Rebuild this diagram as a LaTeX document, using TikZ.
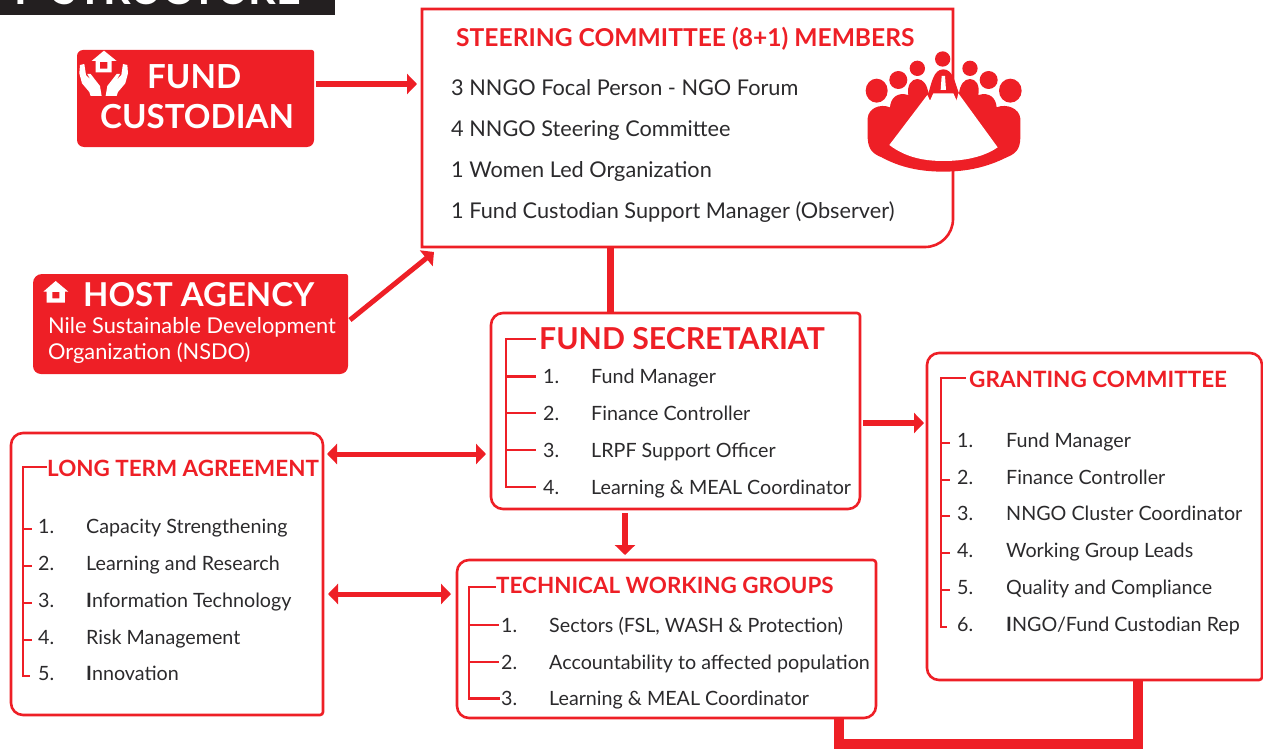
\documentclass[tikz,border=0pt]{standalone}
\usepackage{fontspec}
\setmainfont{Lato}
\usetikzlibrary{arrows.meta,calc}
\definecolor{brand}{HTML}{EE1F26}
\definecolor{ink}{HTML}{2B2A2C}
\definecolor{banner}{HTML}{231F20}
\tikzset{
  panel/.style={inner sep=0pt,outer sep=0pt},
  edgeline/.style={draw=brand,line width=2.6pt},
  body/.style={anchor=base west,inner sep=0pt,text=ink,font=\fontsize{19.7}{24}\selectfont},
  bodylarge/.style={anchor=base west,inner sep=0pt,text=ink,font=\fontsize{21.7}{25}\selectfont},
  head/.style={anchor=base west,inner sep=0pt,text=brand,font=\bfseries\fontsize{#1}{#1}\selectfont},
  tree/.style={draw=brand,line width=2.8pt},
  link/.style={draw=brand,line width=#1,-{Triangle[length=10pt,width=20pt]}},
  dlink/.style={draw=brand,line width=#1,{Triangle[length=10pt,width=20pt]}-{Triangle[length=10pt,width=20pt]}},
  trunk/.style={draw=brand,line width=#1},
  whitetext/.style={anchor=base west,inner sep=0pt,text=white,font=\fontsize{#1}{#1}\selectfont},
}
\newcommand\panelbox[9]{% name x1 y1 x2 y2 tl tr br bl
  \node[panel,minimum width={(#4-#2)*1pt},minimum height={(#5-#3)*1pt}] (#1) at ({(#2+#4)/2},{(#3+#5)/2}) {};
  \draw[edgeline] (#1.west) [rounded corners=#6pt] |- (#1.north) [rounded corners=#7pt] -| (#1.east) [rounded corners=#8pt] |- (#1.south) [rounded corners=#9pt] -| (#1.west);
}
\newcommand\solidbox[9]{%
  \node[panel,minimum width={(#4-#2)*1pt},minimum height={(#5-#3)*1pt}] (#1) at ({(#2+#4)/2},{(#3+#5)/2}) {};
  \fill[brand] (#1.west) [rounded corners=#6pt] |- (#1.north) [rounded corners=#7pt] -| (#1.east) [rounded corners=#8pt] |- (#1.south) [rounded corners=#9pt] -| (#1.west);
}
% id, number x, label x, baseline, number, label
\newcommand\rowitem[6]{%
  \node[body] (#1n) at (#2,#4) {#5.};
  \node[body] (#1l) at (#3,#4) {#6};
}
% spine coordinate, number node, gap to number, y offset
\newcommand\branch[4]{%
  \draw[tree] (#1 |- {$(#2.west)+(0,#4)$}) -- ($(#2.west)+(-#3,#4)$);
}
\begin{document}
\begin{tikzpicture}[x=1pt,y=-1pt]
\useasboundingbox (0,0) rectangle (1263,749);

% banner, cut off by the top edge
\node[panel,fill=banner,minimum width=335pt,minimum height=15pt,anchor=north west] (banner) at (0,0) {};
\begin{scope}
  \clip (0,0) rectangle (335,15);
  \node[anchor=base west,inner sep=0pt,text=white,font=\bfseries\fontsize{43}{43}\selectfont] (bannertext) at (14,5) {F\hspace{5pt} STRUCTURE};
\end{scope}

% filled boxes
\solidbox{fc}{77}{50}{314}{147}{6}{2}{7}{7}
\solidbox{ha}{33}{274}{348}{374}{9}{2}{8}{8}
\node[whitetext=33.1] (fct1) at (147,88.5) {\bfseries FUND};
\node[whitetext=33.1] (fct2) at (100,128.5) {\bfseries CUSTODIAN};
\node[whitetext=32.9] (hat) at (83,306) {\bfseries HOST AGENCY};
\node[whitetext=21.8] (has1) at (48,333) {Nile Sustainable Development};
\node[whitetext=21.8] (has2) at (48,359) {Organization (NSDO)};

% steering committee
\panelbox{sc}{422}{9}{953}{247}{0}{0}{28}{0}
\node[head=24.6] (sct) at (456,47) {STEERING COMMITTEE (8+1) MEMBERS};
\node[bodylarge] (sc1) at (451,96) {3 NNGO Focal Person - NGO Forum};
\node[bodylarge] (sc2) at (451,137) {4 NNGO Steering Committee};
\node[bodylarge] (sc3) at (451,177) {1 Women Led Organization};
\node[bodylarge] (sc4) at (451,218) {1 Fund Custodian Support Manager (Observer)};

% fund secretariat
\panelbox{fs}{491}{313}{860}{509}{12}{3}{12}{12}
\node[head=30.2] (fst) at (539,349) {FUND SECRETARIAT};
\rowitem{fsa}{543}{591}{383.5}{1}{Fund Manager}
\rowitem{fsb}{543}{591}{420}{2}{Finance Controller}
\rowitem{fsc}{543}{591}{457}{3}{LRPF Support Officer}
\rowitem{fsd}{543}{591}{494}{4}{Learning \& MEAL Coordinator}
\coordinate (fsspine) at (506,339);
\draw[tree] (fst.west |- fsspine) ++(-3,0) -- (fsspine) |- ($(fsdn.west)+(-7,0)$);
\branch{fsspine}{fsan}{7}{0}
\branch{fsspine}{fsbn}{7}{0}
\branch{fsspine}{fscn}{7}{0}

% granting committee
\panelbox{gc}{927}{353}{1262}{680}{12}{12}{3}{12}
\node[head=22.5] (gct) at (969,387) {GRANTING COMMITTEE};
\rowitem{gca}{957}{1006}{447}{1}{Fund Manager}
\rowitem{gcb}{957}{1006}{484}{2}{Finance Controller}
\rowitem{gcc}{957}{1006}{520}{3}{NNGO Cluster Coordinator}
\rowitem{gcd}{957}{1006}{557}{4}{Working Group Leads}
\rowitem{gce}{957}{1006}{594}{5}{Quality and Compliance}
\rowitem{gcf}{957}{1006}{631}{6}{{\bfseries I}NGO/Fund Custodian Rep}
\coordinate (gcspine) at (941,378);
\draw[tree] (gct.west |- gcspine) ++(-3,0) -- (gcspine) |- ($(gcfn.west)+(-10,3)$);
\branch{gcspine}{gcan}{7}{3}
\branch{gcspine}{gcbn}{7}{3}
\branch{gcspine}{gccn}{7}{3}
\branch{gcspine}{gcdn}{7}{3}
\branch{gcspine}{gcen}{7}{3}

% long term agreement
\panelbox{lt}{11}{433}{323}{715}{12}{12}{3}{12}
\node[head=22.4] (ltt) at (47,476) {LONG TERM AGREEMENT};
\rowitem{lta}{38}{86}{533}{1}{Capacity Strengthening}
\rowitem{ltb}{38}{86}{570}{2}{Learning and Research}
\rowitem{ltc}{38}{86}{607}{3}{{\bfseries I}nformation Technology}
\rowitem{ltd}{38}{86}{644}{4}{Risk Management}
\rowitem{lte}{38}{86}{680}{5}{{\bfseries I}nnovation}
\coordinate (ltspine) at (23,467);
\draw[tree] (ltt.west |- ltspine) -- (ltspine) |- ($(lten.west)+(-8,3)$);
\branch{ltspine}{ltan}{6}{3}
\branch{ltspine}{ltbn}{6}{3}
\branch{ltspine}{ltcn}{6}{3}
\branch{ltspine}{ltdn}{6}{3}

% technical working groups
\panelbox{tw}{457}{560}{876}{718}{12}{3}{12}{12}
\node[head=22.4] (twt) at (496,593) {TECHNICAL WORKING GROUPS};
\rowitem{twa}{501}{549}{632}{1}{Sectors (FSL, WASH \& Protection)}
\rowitem{twb}{501}{549}{669}{2}{Accountability to affected population}
\rowitem{twc}{501}{549}{705.5}{3}{Learning \& MEAL Coordinator}
\coordinate (twspine) at (469,587);
\draw[tree] (twt.west |- twspine) -- (twspine) |- ($(twcn.west)+(-1,0)$);
\branch{twspine}{twan}{2}{0}
\branch{twspine}{twbn}{2}{0}

% connectors
\draw[link=6pt] ($(fc.north east)+(2,34)$) -- ($(sc.north west)+(-5,75)$);
\draw[link=5pt] ($(ha.north east)+(2,46)$) -- ($(sc.south west)+(12,5)$);
\draw[trunk=7pt] ($(sc.south west)+(188.5,0)$) -- ($(fs.north west)+(119.5,0)$);
\draw[link=6pt] ($(fs.north east)+(3,110)$) -- ($(gc.north west)+(-3,70)$);
\draw[link=6pt] ($(fs.south west)+(134,4)$) -- ($(tw.north west)+(168,-5)$);
\draw[dlink=5pt] ($(lt.north east)+(4,21)$) -- ($(fs.north west)+(-5,141)$);
\draw[dlink=5pt] ($(lt.north east)+(5,161)$) -- ($(tw.north west)+(-6,34)$);
\draw[trunk=10pt,line join=miter] ($(tw.south east)+(-37.5,0)$) |- (1138,744) -- ($(gc.south west)+(211,0)$);

% hands and house icon (traced at 3x)
\begin{scope}[x=0.3333pt,y=-0.3333pt]
  \fill[white,even odd rule] (275,183) -- (312,152) -- (350,183) -- (335,183) -- (335,217) -- (287,217) -- (287,183) -- cycle (300,186) rectangle (322,206);
  \foreach \m/\o in {1/0,-1/622}{
    \fill[white] ({\o+\m*240},195) -- ({\o+\m*253},192) -- ({\o+\m*258},225) -- ({\o+\m*272},240) -- ({\o+\m*262},222) -- ({\o+\m*272},222) -- ({\o+\m*300},258) -- ({\o+\m*305},288) -- ({\o+\m*272},288) -- ({\o+\m*268},276) -- ({\o+\m*246},250) -- ({\o+\m*238},220) -- cycle;
  }
\end{scope}

% small house icon
\begin{scope}[shift={(0,260)},x=0.3333pt,y=-0.3333pt]
  \fill[white,even odd rule] (167,63) -- (205,95) -- (195,95) -- (195,128) -- (140,128) -- (140,95) -- (130,95) -- cycle (157,96) rectangle (178,115);
\end{scope}

% meeting icon
\begin{scope}[shift={(840,30)},x=0.3333pt,y=-0.3333pt]
  \fill[brand] (110,182) ellipse [x radius=33,y radius=36];
  \fill[brand] (175,150) circle [radius=27];
  \fill[brand] (232,115) circle [radius=23];
  \fill[brand] (308,87) circle [radius=23];
  \fill[brand] (390,115) circle [radius=23];
  \fill[brand] (446,150) circle [radius=27];
  \fill[brand] (511,182) ellipse [x radius=34,y radius=36];
  \fill[brand] (83,265) .. controls (85,235) and (120,220) .. (150,232)
     .. controls (152,205) and (170,185) .. (205,195)
     .. controls (200,165) and (215,147) .. (232,147)
     .. controls (250,147) and (262,165) .. (265,190)
     .. controls (275,160) and (280,118) .. (310,118)
     .. controls (340,118) and (345,160) .. (357,190)
     .. controls (360,165) and (372,147) .. (390,147)
     .. controls (408,147) and (420,165) .. (415,195)
     .. controls (450,185) and (468,205) .. (470,232)
     .. controls (500,220) and (538,235) .. (541,265)
     -- (541,325) .. controls (540,360) and (525,372) .. (500,382)
     .. controls (440,412) and (380,425) .. (310,425)
     .. controls (240,425) and (180,412) .. (125,382)
     .. controls (100,372) and (85,360) .. (83,325) -- cycle;
  \fill[white] (262,195) -- (148,345) .. controls (200,385) and (260,393) .. (310,393)
     .. controls (370,393) and (430,382) .. (473,352) -- (355,190)
     -- (350,212) -- (340,190) -- (280,190) -- (270,212) -- cycle;
  \fill[white] (305,138) -- (315,138) -- (318,180) -- (302,180) -- cycle;
\end{scope}
\end{tikzpicture}
\end{document}
